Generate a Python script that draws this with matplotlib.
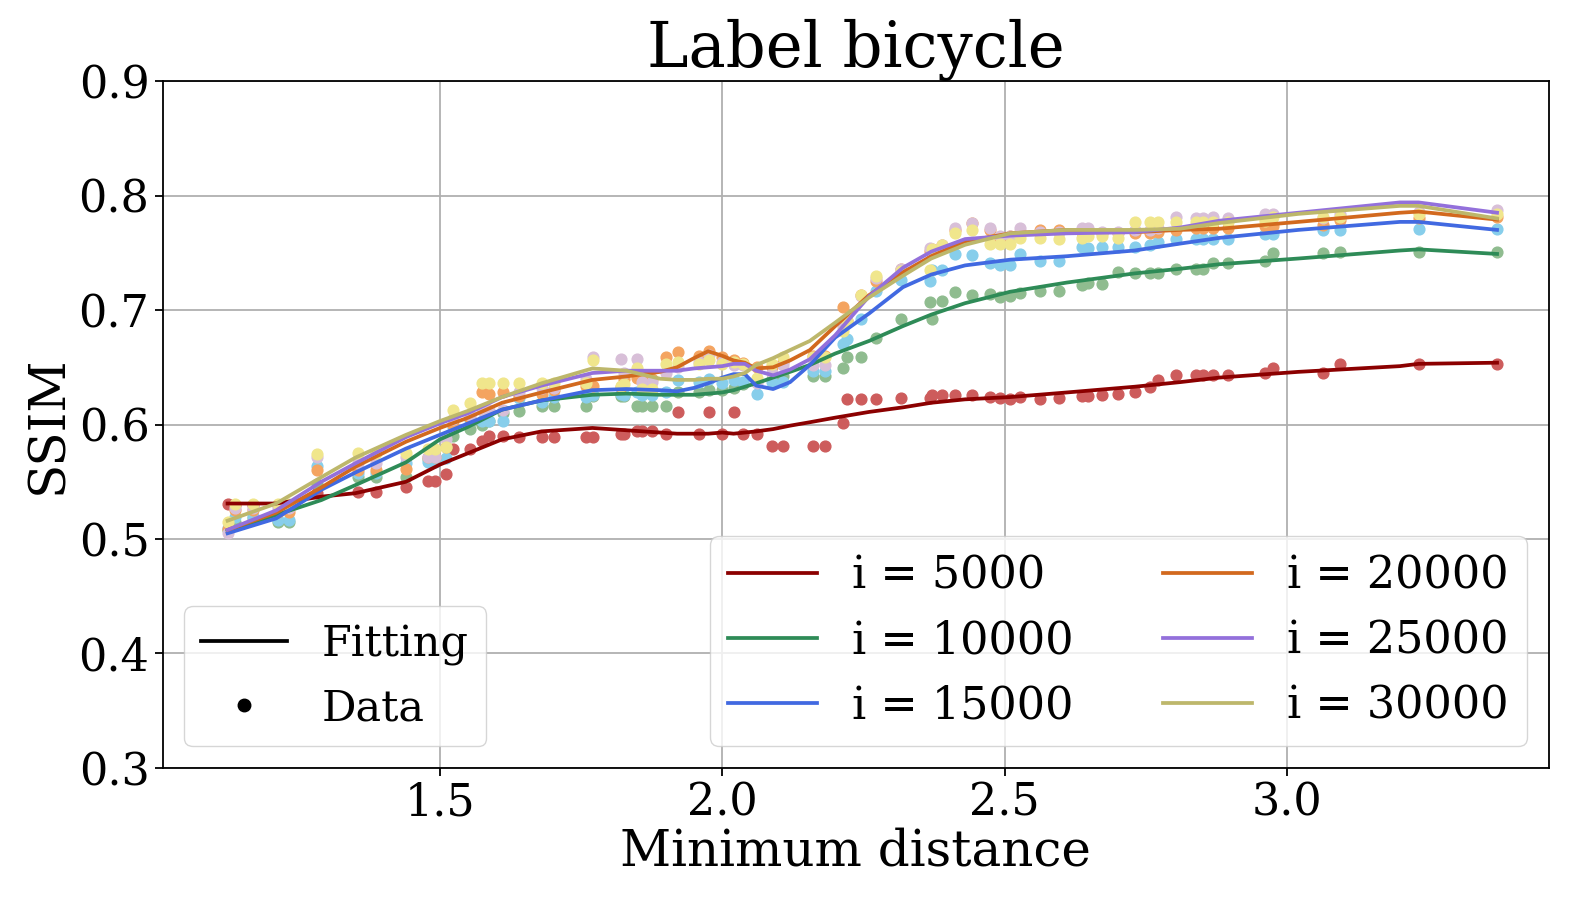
import numpy as np
import matplotlib
matplotlib.use("Agg")
import matplotlib.pyplot as plt
from matplotlib.lines import Line2D

plt.rcParams['font.family'] = ['DejaVu Serif']

# Minimum distance of each measured sample (shared by all iterations)
min_dist = [1.124, 1.137, 1.169, 1.213, 1.233, 1.283, 1.355, 1.386, 1.440, 1.479,
            1.491, 1.511, 1.523, 1.553, 1.574, 1.587, 1.612, 1.640, 1.681, 1.702,
            1.759, 1.771, 1.821, 1.826, 1.849, 1.858, 1.876, 1.900, 1.922, 1.959,
            1.977, 2.000, 2.020, 2.037, 2.061, 2.088, 2.107, 2.161, 2.182, 2.214,
            2.220, 2.246, 2.272, 2.317, 2.368, 2.372, 2.389, 2.412, 2.442, 2.474,
            2.492, 2.510, 2.527, 2.563, 2.597, 2.637, 2.648, 2.673, 2.701, 2.731,
            2.758, 2.772, 2.804, 2.839, 2.852, 2.869, 2.896, 2.961, 2.975, 3.064,
            3.094, 3.233, 3.372]

ssim_5000 = [.531, .530, .530, .530, .530, .540, .541, .541, .545, .551,
             .551, .557, .579, .579, .586, .590, .590, .589, .589, .589,
             .589, .589, .592, .592, .594, .594, .594, .592, .611, .592,
             .611, .592, .611, .592, .592, .581, .581, .581, .581, .601,
             .622, .622, .622, .623, .623, .626, .626, .626, .626, .624,
             .623, .622, .624, .622, .623, .625, .625, .626, .627, .628,
             .633, .639, .643, .643, .643, .643, .643, .645, .649, .645,
             .653, .653, .653]
ssim_10000 = [.508, .515, .518, .515, .515, .548, .554, .554, .554, .570,
              .570, .580, .590, .596, .600, .603, .610, .612, .616, .616,
              .616, .625, .625, .625, .616, .616, .616, .616, .628, .628,
              .630, .630, .632, .635, .638, .640, .642, .642, .642, .649,
              .659, .659, .676, .692, .707, .692, .708, .716, .713, .714,
              .711, .712, .715, .717, .717, .722, .724, .723, .733, .732,
              .732, .732, .736, .736, .736, .741, .741, .743, .750, .750,
              .751, .751, .751]
ssim_15000 = [.510, .519, .520, .517, .517, .564, .558, .558, .566, .567,
              .567, .571, .598, .604, .603, .603, .603, .623, .620, .624,
              .624, .626, .627, .626, .628, .626, .626, .628, .639, .637,
              .640, .636, .639, .637, .627, .637, .637, .647, .647, .670,
              .675, .692, .717, .726, .725, .735, .735, .749, .748, .741,
              .739, .739, .749, .743, .743, .755, .754, .755, .755, .755,
              .757, .759, .762, .762, .762, .762, .762, .766, .766, .770,
              .770, .771, .771]
ssim_20000 = [.509, .525, .525, .524, .524, .560, .560, .560, .561, .572,
              .572, .580, .600, .606, .628, .627, .628, .625, .627, .630,
              .634, .634, .633, .640, .641, .640, .640, .659, .663, .660,
              .664, .659, .656, .654, .650, .650, .655, .660, .660, .703,
              .690, .713, .725, .736, .752, .753, .757, .770, .776, .770,
              .762, .765, .768, .770, .770, .768, .768, .767, .767, .767,
              .767, .768, .770, .772, .772, .772, .772, .773, .773, .774,
              .779, .780, .781]
ssim_25000 = [.505, .527, .527, .527, .527, .572, .566, .566, .572, .572,
              .572, .587, .605, .608, .613, .613, .613, .628, .632, .632,
              .640, .659, .657, .645, .657, .637, .637, .645, .650, .655,
              .661, .655, .652, .652, .636, .645, .652, .652, .652, .685,
              .690, .712, .728, .736, .754, .752, .757, .772, .776, .772,
              .765, .765, .772, .768, .768, .772, .772, .768, .768, .770,
              .770, .772, .781, .780, .780, .781, .780, .784, .784, .780,
              .784, .786, .787]
ssim_30000 = [.515, .531, .531, .531, .531, .574, .575, .575, .575, .579,
              .579, .580, .613, .619, .636, .636, .636, .636, .636, .636,
              .636, .656, .634, .635, .649, .631, .631, .653, .655, .653,
              .656, .653, .655, .653, .641, .653, .659, .659, .659, .682,
              .690, .713, .730, .734, .735, .753, .757, .767, .770, .758,
              .758, .758, .763, .763, .762, .763, .765, .765, .763, .777,
              .777, .777, .777, .777, .777, .777, .777, .778, .781, .781,
              .781, .784, .784]

# Fitted curves, read at these distances
fit_dist = [1.124, 1.21, 1.29, 1.35, 1.44, 1.50, 1.55, 1.61, 1.68, 1.77,
            1.83, 1.89, 1.92, 1.95, 1.975, 2.00, 2.02, 2.04, 2.06, 2.09,
            2.12, 2.155, 2.20, 2.26, 2.32, 2.37, 2.43, 2.51, 2.61, 2.73,
            2.81, 2.88, 3.02, 3.20, 3.233, 3.372]
fit_5000 = [.531, .531, .537, .540, .550, .565, .575, .587, .594, .597,
            .595, .593, .592, .592, .592, .593, .592, .593, .594, .596,
            .599, .602, .606, .611, .615, .619, .622, .624, .628, .633,
            .637, .641, .646, .651, .653, .654]
fit_10000 = [.507, .521, .534, .547, .567, .587, .598, .613, .621, .626,
             .627, .626, .626, .626, .627, .628, .630, .633, .636, .641,
             .646, .652, .662, .673, .686, .696, .706, .716, .724, .732,
             .736, .740, .745, .752, .753, .749]
fit_15000 = [.505, .518, .543, .558, .579, .591, .601, .613, .621, .630,
             .631, .630, .629, .632, .636, .641, .644, .644, .634, .631,
             .637, .652, .676, .697, .720, .731, .739, .744, .747, .752,
             .758, .763, .770, .777, .777, .770]
fit_20000 = [.508, .523, .545, .563, .585, .597, .606, .619, .628, .639,
             .642, .646, .650, .658, .664, .660, .656, .654, .649, .650,
             .656, .665, .686, .713, .733, .747, .760, .767, .770, .768,
             .770, .771, .777, .785, .786, .779]
fit_25000 = [.508, .525, .550, .566, .589, .601, .610, .624, .634, .645,
             .647, .647, .647, .649, .650, .651, .653, .653, .647, .643,
             .648, .657, .678, .712, .737, .751, .762, .765, .767, .768,
             .772, .778, .785, .794, .794, .785]
fit_30000 = [.516, .531, .554, .571, .591, .603, .612, .624, .636, .649,
             .647, .640, .639, .639, .640, .640, .642, .645, .652, .658,
             .665, .673, .689, .711, .730, .745, .757, .767, .770, .770,
             .771, .776, .784, .791, .791, .780]

labels = ['i = 5000', 'i = 10000', 'i = 15000', 'i = 20000', 'i = 25000', 'i = 30000']
line_colors = ['#8B0000', '#2E8B57', '#4169E1', '#D2691E', '#9370DB', '#BDB76B']
dot_colors = ['#CD5C5C', '#8FBC8F', '#87CEEB', '#F4A460', '#D8BFD8', '#F0E68C']
data = [ssim_5000, ssim_10000, ssim_15000, ssim_20000, ssim_25000, ssim_30000]
fits = [fit_5000, fit_10000, fit_15000, fit_20000, fit_25000, fit_30000]

fig = plt.figure(figsize=(15.79, 9.11), dpi=100)
ax = fig.add_axes([0.103, 0.157, 0.878, 0.754])

handles = []
for ys, fy, lab, lc, dc in zip(data, fits, labels, line_colors, dot_colors):
    ax.scatter(min_dist, ys, s=60, color=dc, zorder=3)
    h, = ax.plot(fit_dist, fy, color=lc, lw=2.7, label=lab, zorder=4)
    handles.append(h)

ax.set_xlim(1.009, 3.464)
ax.set_ylim(0.3, 0.9)
ax.set_xticks([1.5, 2.0, 2.5, 3.0])
ax.grid(True, color='#b0b0b0', lw=1.3)
ax.set_axisbelow(True)
ax.tick_params(labelsize=32, width=1.3, length=6)
for sp in ax.spines.values():
    sp.set_linewidth(1.3)

ax.set_title('Label bicycle', fontsize=45)
ax.set_xlabel('Minimum distance', fontsize=36, labelpad=2)
ax.set_ylabel('SSIM', fontsize=36)

leg1 = ax.legend(handles=handles, loc='lower right', ncol=2, fontsize=32)
ax.add_artist(leg1)
style_handles = [Line2D([], [], color='black', lw=2.7),
                 Line2D([], [], color='black', marker='o', ls='none', markersize=9)]
ax.legend(style_handles, ['Fitting', 'Data'], loc='lower left', fontsize=31)

fig.savefig('out.png', dpi=100)
